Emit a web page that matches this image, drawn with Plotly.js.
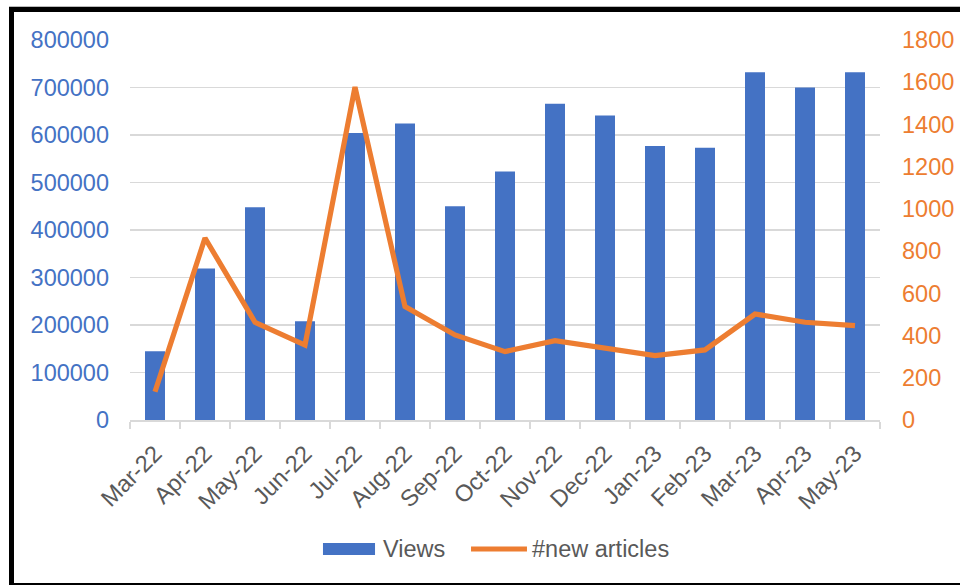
<!DOCTYPE html>
<html>
<head>
<meta charset="utf-8">
<script src="https://cdn.plot.ly/plotly-3.0.1.min.js"></script>
<style>
  html, body { margin: 0; padding: 0; background: #fff; overflow: hidden; }
  #chart { position: absolute; left: 0; top: 0; width: 960px; height: 585px; }
  #frame {
    position: absolute; left: 9px; top: 7px; width: 960px; height: 578px;
    box-sizing: border-box; pointer-events: none;
    border-left: 5px solid #000; border-top: 5px solid #000; border-bottom: 2px solid #000;
    box-shadow: 0 -1px 0 #bbb;
  }
</style>
</head>
<body>
<div id="chart"></div>
<div id="frame"></div>
<script>
// Monthly page views and number of newly published articles
const months = ["Mar-22", "Apr-22", "May-22", "Jun-22", "Jul-22", "Aug-22", "Sep-22",
                "Oct-22", "Nov-22", "Dec-22", "Jan-23", "Feb-23", "Mar-23", "Apr-23", "May-23"];
const views = [145000, 319000, 448000, 208000, 604000, 624000, 450000,
               523000, 666000, 641000, 577000, 573000, 732000, 700000, 732000];
const newArticles = [134, 862, 463, 355, 1577, 537, 403,
                     324, 376, 340, 305, 332, 502, 463, 447];

const BLUE = "#4472C4";
const ORANGE = "#ED7D31";
const GREY_TEXT = "#595959";
const GRID = "#D9D9D9";
const FONT = "Liberation Sans, Arial, sans-serif";
const SIZE = 23.5;

const traces = [
  {
    type: "bar", name: "Views", x: months, y: views,
    marker: { color: BLUE }, width: 0.4, showlegend: false
  },
  {
    type: "scatter", mode: "lines", name: "#new articles", x: months, y: newArticles,
    yaxis: "y2", line: { color: ORANGE, width: 5.2 }, showlegend: false
  }
];

const layout = {
  width: 960, height: 585,
  margin: { l: 130, r: 80, t: 40, b: 165 },
  paper_bgcolor: "#fff", plot_bgcolor: "#fff",
  font: { family: FONT, size: SIZE, color: GREY_TEXT },
  xaxis: {
    type: "category", tickson: "boundaries", ticks: "outside", ticklen: 7,
    tickcolor: GRID, tickwidth: 1.5, showline: true, linecolor: GRID, linewidth: 1.5,
    tickangle: -45, tickfont: { color: GREY_TEXT, size: SIZE }, showgrid: false,
    ticklabelstandoff: 9, range: [-0.5, 14.5]
  },
  yaxis: {
    range: [0, 800000], dtick: 100000, tickformat: "d",
    showgrid: true, gridcolor: GRID, gridwidth: 1.5, zeroline: false,
    tickfont: { color: BLUE, size: SIZE }, ticklabelstandoff: 20
  },
  yaxis2: {
    overlaying: "y", side: "right", range: [0, 1800], dtick: 200, tickformat: "d",
    showgrid: false, zeroline: false,
    tickfont: { color: ORANGE, size: SIZE }, ticklabelstandoff: 21
  },
  // legend drawn below the plot: swatches plus labels
  shapes: [
    { type: "rect", xref: "paper", yref: "paper", x0: 0.2573, x1: 0.3267, y0: -0.3553, y1: -0.3237,
      fillcolor: BLUE, line: { width: 0 } },
    { type: "line", xref: "paper", yref: "paper", x0: 0.4547, x1: 0.5293, y0: -0.3395, y1: -0.3395,
      line: { color: ORANGE, width: 5.2 } }
  ],
  annotations: [
    { xref: "paper", yref: "paper", x: 0.3347, y: -0.3395, xanchor: "left", yanchor: "middle",
      text: "Views", showarrow: false, font: { color: GREY_TEXT, size: SIZE } },
    { xref: "paper", yref: "paper", x: 0.5333, y: -0.3395, xanchor: "left", yanchor: "middle",
      text: "#new articles", showarrow: false, font: { color: GREY_TEXT, size: SIZE } }
  ]
};

Plotly.newPlot("chart", traces, layout, { staticPlot: true, displayModeBar: false });
</script>
</body>
</html>
